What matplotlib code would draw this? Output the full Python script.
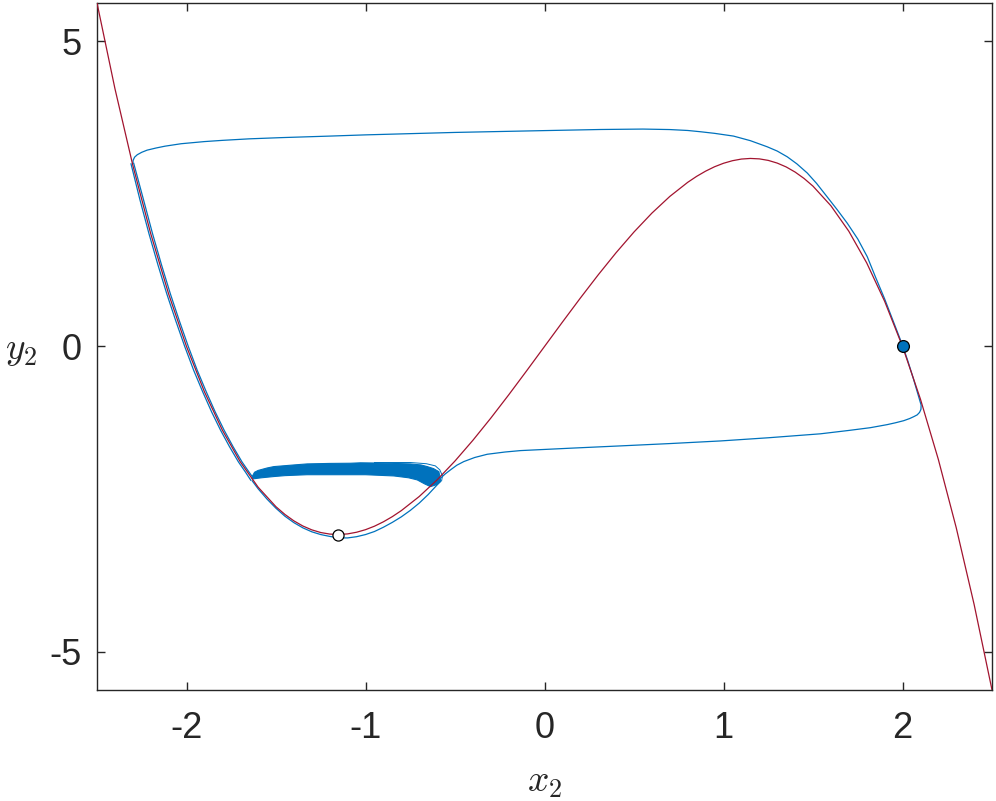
import matplotlib
matplotlib.use("Agg")
import matplotlib.pyplot as plt
import numpy as np

plt.rcParams['mathtext.fontset'] = 'cm'
plt.rcParams['font.family'] = ['Liberation Sans', 'DejaVu Sans']

BLUE = '#0072BD'
RED = '#A2142F'

# Red curve (nullcline)
red_x = [-2.5, -2.4, -2.3, -2.2, -2.1, -2.0, -1.9, -1.8, -1.7, -1.6, -1.5, -1.45, -1.4,
         -1.35, -1.3, -1.25, -1.2, -1.15, -1.1, -1.05, -1.0, -0.95, -0.9, -0.85, -0.8,
         -0.7, -0.6, -0.5, -0.4, -0.3, -0.2, -0.1, 0.0,
         0.1, 0.2, 0.3, 0.4, 0.5, 0.6, 0.7, 0.8, 0.85, 0.9, 0.95, 1.0, 1.05, 1.1, 1.15,
         1.2, 1.25, 1.3, 1.35, 1.4, 1.45, 1.5,
         1.6, 1.7, 1.8, 1.9, 2.0, 2.1, 2.2, 2.3, 2.4, 2.5]
red_y = [5.625, 4.224, 2.967, 1.848, 0.861, 0.0, -0.741, -1.368, -1.887, -2.304, -2.625,
         -2.751, -2.856, -2.940, -3.003, -3.047, -3.072, -3.079, -3.069, -3.042, -3.0,
         -2.943, -2.871, -2.786, -2.688,
         -2.457, -2.184, -1.875, -1.536, -1.173, -0.792, -0.399, 0.0,
         0.399, 0.792, 1.173, 1.536, 1.875, 2.184, 2.457, 2.688, 2.786, 2.871, 2.943,
         3.0, 3.042, 3.069, 3.079, 3.072, 3.047, 3.003, 2.940, 2.856, 2.751, 2.625,
         2.304, 1.887, 1.368, 0.741, 0.0, -0.861, -1.848, -2.967, -4.224, -5.625]

# Blue trajectory: upper jump, right branch, lower jump
loop_x = [-2.300, -2.298, -2.290, -2.275, -2.250, -2.220, -2.170, -2.120, -2.030, -1.900,
          -1.800, -1.650, -1.470, -1.200, -1.000, -0.750, -0.500, -0.250, 0.000, 0.313,
          0.550, 0.700, 0.800, 0.872, 0.950, 1.056, 1.150, 1.244, 1.300, 1.356, 1.410,
          1.468, 1.520, 1.579, 1.635, 1.691, 1.750, 1.803, 1.850, 1.900, 1.950, 2.000,
          2.030, 2.060, 2.080, 2.095, 2.104, 2.103, 2.095, 2.082, 2.063, 2.040, 2.007,
          1.960, 1.914, 1.820, 1.700, 1.542, 1.250, 0.983, 0.700, 0.425, 0.150, -0.134,
          -0.220, -0.320, -0.390, -0.451, -0.490, -0.525, -0.555, -0.581]
loop_y = [3.000, 3.050, 3.100, 3.140, 3.180, 3.215, 3.250, 3.280, 3.320, 3.355,
          3.375, 3.400, 3.420, 3.445, 3.465, 3.485, 3.505, 3.520, 3.535, 3.553,
          3.560, 3.552, 3.537, 3.516, 3.490, 3.445, 3.370, 3.270, 3.200, 3.106, 2.990,
          2.840, 2.670, 2.450, 2.240, 2.020, 1.760, 1.470, 1.130, 0.780, 0.400, 0.020,
          -0.240, -0.520, -0.720, -0.870, -0.960, -1.030, -1.080, -1.120, -1.149, -1.180, -1.215,
          -1.250, -1.280, -1.330, -1.375, -1.430, -1.495, -1.547, -1.590, -1.628, -1.665, -1.705,
          -1.728, -1.765, -1.818, -1.885, -1.945, -2.020, -2.088, -2.157]

# Blue trajectory along left branch (two nearby passes)
left1_x = [-2.31, -2.26, -2.21, -2.16, -2.11, -2.06, -2.01, -1.96, -1.91, -1.86, -1.81,
           -1.76, -1.71, -1.67, -1.641]
left1_y = [2.99, 2.40, 1.85, 1.34, 0.86, 0.42, 0.00, -0.39, -0.74, -1.07, -1.37,
           -1.64, -1.89, -2.06, -2.19]
left2_x = [-2.295, -2.24, -2.19, -2.14, -2.09, -2.04, -1.99, -1.94, -1.89, -1.84, -1.79,
           -1.74, -1.69, -1.65, -1.628]
left2_y = [3.00, 2.40, 1.85, 1.34, 0.86, 0.42, 0.00, -0.39, -0.74, -1.07, -1.37,
           -1.64, -1.89, -2.06, -2.15]

# Blue trajectory along the lower U
u_x = [-1.633, -1.60, -1.55, -1.50, -1.45, -1.40, -1.35, -1.30, -1.25, -1.20, -1.15,
       -1.10, -1.05, -1.00, -0.95, -0.90, -0.85, -0.80, -0.75, -0.70, -0.65, -0.62,
       -0.60, -0.585]
u_y = [-2.20, -2.33, -2.50, -2.65, -2.78, -2.885, -2.97, -3.035, -3.08, -3.11, -3.135,
       -3.135, -3.115, -3.08, -3.03, -2.96, -2.88, -2.79, -2.685, -2.565, -2.425, -2.33,
       -2.267, -2.22]

# Dense band of small oscillations (upper edge, then lower edge back)
band_x = [-1.633, -1.62, -1.60, -1.55, -1.512, -1.40, -1.326, -1.20, -1.084, -1.028,
          -0.90, -0.749, -0.69, -0.655, -0.62, -0.59, -0.58,
          -0.58, -0.60, -0.637, -0.67, -0.711, -0.76, -0.842, -1.00, -1.20, -1.326,
          -1.45, -1.512, -1.58, -1.633]
band_y = [-2.13, -2.06, -2.03, -1.99, -1.967, -1.94, -1.923, -1.915, -1.912, -1.905,
          -1.91, -1.923, -1.94, -1.967, -2.00, -2.05, -2.20,
          -2.21, -2.26, -2.295, -2.25, -2.185, -2.15, -2.12, -2.10, -2.10, -2.10,
          -2.115, -2.13, -2.15, -2.17]

# Thin outer loop at right end of band
outer_x = [-0.95, -0.75, -0.66, -0.61, -0.585, -0.57, -0.575]
outer_y = [-1.900, -1.900, -1.920, -1.955, -2.02, -2.12, -2.20]

# Equilibria
eq_filled = (2.0, 0.0)
eq_open = (-1.155, -3.079)

fig = plt.figure(figsize=(9.96, 8.01), dpi=100)
ax = fig.add_axes([0.0974, 0.1386, 0.8986, 0.8577])

lw = 0.9
ax.fill(band_x, band_y, color=BLUE, lw=0.8, zorder=2)
ax.plot(outer_x, outer_y, color=BLUE, lw=0.7, zorder=2)
ax.plot(loop_x, loop_y, color=BLUE, lw=lw, zorder=2)
ax.plot(left1_x, left1_y, color=BLUE, lw=lw, zorder=2)
ax.plot(left2_x, left2_y, color=BLUE, lw=lw, zorder=2)
ax.plot(u_x, u_y, color=BLUE, lw=lw, zorder=2)
ax.plot(red_x, red_y, color=RED, lw=0.9, zorder=3)

ax.plot([eq_filled[0]], [eq_filled[1]], 'o', ms=8.5, mfc=BLUE, mec='black', mew=0.9, zorder=5)
ax.plot([eq_open[0]], [eq_open[1]], 'o', ms=8.0, mfc='white', mec='black', mew=0.9, zorder=5)

ax.set_xlim(-2.5, 2.5)
ax.set_ylim(-5.625, 5.625)
ax.set_xticks([-2, -1, 0, 1, 2])
ax.set_xticklabels(['-2', '-1', '0', '1', '2'])
ax.set_yticks([-5, 0, 5])
ax.set_yticklabels(['-5', '0', '5'])

AX_COLOR = '#262626'
for s in ax.spines.values():
    s.set_color(AX_COLOR)
    s.set_linewidth(1.0)
ax.tick_params(axis='both', direction='in', length=6, width=1.0, colors=AX_COLOR,
               labelsize=26, top=True, right=True)
ax.tick_params(axis='x', pad=15)
ax.tick_params(axis='y', pad=11)

ax.set_xlabel(r'$x_2$', fontsize=27, color=AX_COLOR)
ax.xaxis.set_label_coords(0.5, -0.134)
ax.xaxis.label.set_va('center')
ax.set_ylabel(r'$y_2$', fontsize=27, color=AX_COLOR, rotation=0)
ax.yaxis.set_label_coords(-0.085, 0.495)
ax.yaxis.label.set_va('center')
ax.yaxis.label.set_ha('center')

fig.savefig('out.png', dpi=100)
